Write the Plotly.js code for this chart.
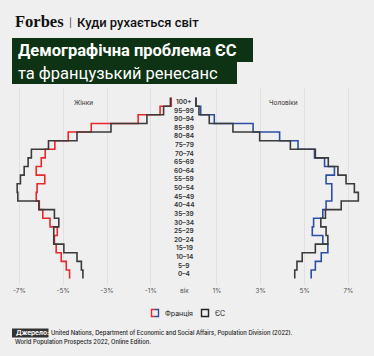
<!DOCTYPE html>
<html>
<head>
<meta charset="utf-8">
<script src="https://cdn.plot.ly/plotly-3.0.1.min.js"></script>
<style>
html,body{margin:0;padding:0;background:#efefef;}
#chart{width:374px;height:356px;}
</style>
</head>
<body>
<div id="chart"></div>
<script>
// Age groups, bottom to top
const ages = ["0–4","5–9","10–14","15–19","20–24","25–29","30–34","35–39","40–44","45–49","50–54","55–59","60–64","65–69","70–74","75–79","80–84","85–89","90–94","95–99","100+"];
// Share of female / male population by age group, %
const franceWomen = [4.71,4.86,5.09,5.32,5.40,5.27,5.60,5.93,6.09,6.23,6.19,5.84,6.23,6.00,5.82,5.38,4.77,3.72,1.58,0.58,0.07];
const euWomen     = [4.10,4.17,4.37,4.97,5.43,5.43,5.20,5.40,6.11,7.07,7.10,6.95,6.78,6.60,6.45,5.67,4.37,2.82,1.18,0.42,0.11];
const franceMen   = [5.30,5.49,5.76,6.06,5.83,5.35,5.41,5.83,5.98,6.24,6.24,5.98,6.36,5.91,5.45,4.70,3.86,2.65,0.88,0.26,0.03];
const euMen       = [4.55,4.65,4.89,5.49,6.06,5.98,5.74,5.95,6.67,7.45,7.27,6.89,6.52,6.08,5.49,4.35,2.95,1.73,0.65,0.18,0.05];
const leftTicks = [-7,-5,-3,-1];
const rightTicks = [1,3,5,7];

const RED = "#e8282b", BLUE = "#2c4fa6", DARK = "#3b3b3b";

function stepTrace(vals, sign, color, xa, name){
  const xs = [], ys = [];
  xs.push(sign*vals[0]); ys.push(-0.5);
  vals.forEach((v,i)=>{ xs.push(sign*v); ys.push(i); });
  xs.push(sign*vals[vals.length-1]); ys.push(vals.length-0.5);
  return {type:"scatter", mode:"lines", x:xs, y:ys, xaxis:xa, yaxis:"y",
    line:{shape:"vhv", color:color, width:1.6}, name:name, hoverinfo:"skip", showlegend:false};
}

const traces = [
  stepTrace(franceWomen, -1, RED, "x", "Франція"),
  stepTrace(euWomen, -1, DARK, "x", "ЄС"),
  stepTrace(franceMen, 1, BLUE, "x2", "Франція"),
  stepTrace(euMen, 1, DARK, "x2", "ЄС")
];

const W = 374, TOP = 88, BOT = 285;
const px = v => v / W;
const py = v => (BOT - v) / (BOT - TOP);

const annotations = [];
ages.forEach((a,i)=>{
  annotations.push({xref:"paper", yref:"y", x:px(184), y:i, text:a, showarrow:false,
    xanchor:"center", yanchor:"middle", font:{family:"Inter, Roboto, sans-serif", size:6.5, color:"#333", weight:600}});
});
annotations.push(
  {xref:"paper", yref:"paper", x:px(83), y:py(103), text:"Жінки", showarrow:false, xanchor:"center", yanchor:"middle",
   font:{family:"Inter, Roboto, sans-serif", size:6.5, color:"#333"}},
  {xref:"paper", yref:"paper", x:px(283), y:py(103), text:"Чоловіки", showarrow:false, xanchor:"center", yanchor:"middle",
   font:{family:"Inter, Roboto, sans-serif", size:6.5, color:"#333"}},
  {xref:"paper", yref:"paper", x:px(184), y:py(291), text:"вік", showarrow:false, xanchor:"center", yanchor:"middle",
   font:{family:"Inter, Roboto, sans-serif", size:6.5, color:"#555"}},
  {xref:"paper", yref:"paper", x:px(13), y:py(21.5), text:"Forbes", showarrow:false, xanchor:"left", yanchor:"middle",
   font:{family:"Liberation Serif, DejaVu Serif, serif", size:16.5, color:"#111", weight:700}},
  {xref:"paper", yref:"paper", x:px(67), y:py(22), text:"|", showarrow:false, xanchor:"left", yanchor:"middle",
   font:{family:"Inter, Roboto, sans-serif", size:9, color:"#333"}},
  {xref:"paper", yref:"paper", x:px(75), y:py(22), text:"Куди рухається світ", showarrow:false, xanchor:"left", yanchor:"middle",
   font:{family:"Roboto, Inter, sans-serif", size:13, color:"#111", weight:500}},
  {xref:"paper", yref:"paper", x:px(16), y:py(50.5), text:"Демографічна проблема ЄС", showarrow:false, xanchor:"left", yanchor:"middle",
   font:{family:"Roboto, Inter, sans-serif", size:16.5, color:"#ffffff", weight:700}},
  {xref:"paper", yref:"paper", x:px(16), y:py(73), text:"та французький ренесанс", showarrow:false, xanchor:"left", yanchor:"middle",
   font:{family:"Roboto, Inter, sans-serif", size:16.5, color:"#ffffff", weight:400}},
  {xref:"paper", yref:"paper", x:px(163), y:py(313), text:"Франція", showarrow:false, xanchor:"left", yanchor:"middle",
   font:{family:"Inter, Roboto, sans-serif", size:7, color:"#222"}},
  {xref:"paper", yref:"paper", x:px(213), y:py(313), text:"ЄС", showarrow:false, xanchor:"left", yanchor:"middle",
   font:{family:"Inter, Roboto, sans-serif", size:7, color:"#222"}},
  {xref:"paper", yref:"paper", x:px(13.5), y:py(333), text:"Джерело:", showarrow:false, xanchor:"left", yanchor:"middle",
   font:{family:"Inter, Roboto, sans-serif", size:6.5, color:"#ffffff", weight:700}},
  {xref:"paper", yref:"paper", x:px(49), y:py(333), text:"United Nations, Department of Economic and Social Affairs, Population Division (2022).", showarrow:false, xanchor:"left", yanchor:"middle",
   font:{family:"Inter, Roboto, sans-serif", size:5.8, color:"#222", weight:500}},
  {xref:"paper", yref:"paper", x:px(13), y:py(342), text:"World Population Prospects 2022, Online Edition.", showarrow:false, xanchor:"left", yanchor:"middle",
   font:{family:"Inter, Roboto, sans-serif", size:5.8, color:"#222", weight:500}}
);

const shapes = [
  {type:"rect", xref:"paper", yref:"paper", x0:px(12), x1:px(253), y0:py(38), y1:py(62), fillcolor:"#0e3314", line:{width:0}, layer:"below"},
  {type:"rect", xref:"paper", yref:"paper", x0:px(12), x1:px(237), y0:py(62), y1:py(84), fillcolor:"#0e3314", line:{width:0}, layer:"below"},
  {type:"rect", xref:"paper", yref:"paper", x0:px(12), x1:px(48.5), y0:py(328.5), y1:py(337.5), fillcolor:"#333333", line:{width:0}, layer:"below"},
  {type:"path", xref:"paper", yref:"paper",
   path:`M ${px(155)} ${py(309.5)} L ${px(151.5)} ${py(309.5)} L ${px(151.5)} ${py(316.5)} L ${px(155)} ${py(316.5)}`,
   line:{color:RED, width:1.4}},
  {type:"path", xref:"paper", yref:"paper",
   path:`M ${px(155)} ${py(309.5)} L ${px(158.5)} ${py(309.5)} L ${px(158.5)} ${py(316.5)} L ${px(155)} ${py(316.5)}`,
   line:{color:BLUE, width:1.4}},
  {type:"rect", xref:"paper", yref:"paper", x0:px(201.5), x1:px(208.5), y0:py(309.5), y1:py(316.5), line:{color:"#222", width:1.4}}
];

const axisCommon = {showgrid:true, gridcolor:"#e0e0e0", gridwidth:1, zeroline:false, showline:false, ticks:"",
  tickfont:{family:"Inter, Roboto, sans-serif", size:6.5, color:"#555"}, fixedrange:true};

const layout = {
  width:374, height:356,
  paper_bgcolor:"#efefef", plot_bgcolor:"#efefef",
  margin:{l:0, r:0, t:TOP, b:356-BOT, pad:0},
  showlegend:false,
  xaxis: Object.assign({}, axisCommon, {domain:[px(4), px(172.8)], range:[-7.7, 0], anchor:"y",
    tickvals:leftTicks, ticktext:leftTicks.map(t=>t+"%")}),
  xaxis2: Object.assign({}, axisCommon, {domain:[px(195), px(363.8)], range:[0, 7.7], anchor:"y",
    tickvals:rightTicks, ticktext:rightTicks.map(t=>t+"%")}),
  yaxis: {range:[-1.24, 21.61], showgrid:false, zeroline:false, showticklabels:false, ticks:"", showline:false, fixedrange:true},
  annotations: annotations,
  shapes: shapes
};

Plotly.newPlot("chart", traces, layout, {displayModeBar:false, staticPlot:true});
</script>
</body>
</html>
